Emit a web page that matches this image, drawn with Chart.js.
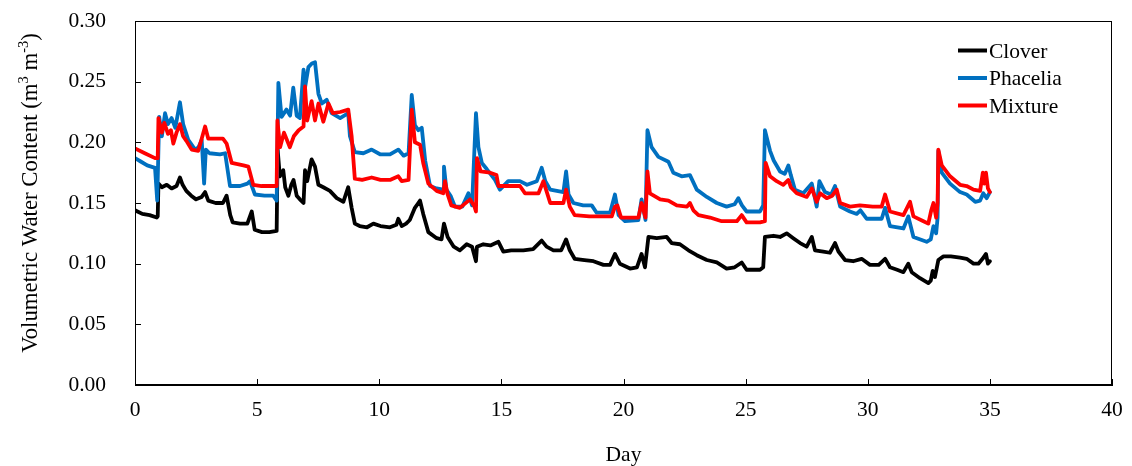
<!DOCTYPE html>
<html>
<head>
<meta charset="utf-8">
<script src="https://cdn.jsdelivr.net/npm/chart.js@4.4.1/dist/chart.umd.min.js"></script>
<style>
  html, body { margin: 0; padding: 0; background: #fff; }
  canvas { display: block; }
</style>
</head>
<body>
<canvas id="vwcChart" width="1132" height="466"></canvas>
<script>
// Series names and colours
const seriesNames = ['Clover', 'Phacelia', 'Mixture'];
const seriesColors = ['#000000', '#0070C0', '#FF0000'];

// Axis ticks
const xTicks = [0, 5, 10, 15, 20, 25, 30, 35, 40];
const yTicks = [0.00, 0.05, 0.10, 0.15, 0.20, 0.25, 0.30];

// Clover
const cloverDays = [0.00, 0.30, 0.60, 0.89, 0.93, 0.96, 1.10, 1.30, 1.50, 1.70, 1.84, 1.95, 2.10, 2.30, 2.50, 2.73, 2.87, 3.00, 3.30, 3.60, 3.75, 3.90, 4.00, 4.30, 4.60, 4.78, 4.90, 5.20, 5.50, 5.80, 5.84, 5.93, 6.07, 6.15, 6.28, 6.40, 6.49, 6.62, 6.75, 6.90, 6.96, 7.05, 7.23, 7.37, 7.51, 7.71, 7.98, 8.26, 8.53, 8.73, 8.87, 9.00, 9.20, 9.50, 9.76, 10.05, 10.44, 10.70, 10.78, 10.92, 11.10, 11.25, 11.46, 11.60, 11.67, 11.80, 12.01, 12.35, 12.55, 12.65, 12.80, 13.05, 13.30, 13.58, 13.80, 13.96, 14.00, 14.26, 14.55, 14.88, 15.08, 15.40, 15.90, 16.30, 16.65, 16.85, 17.13, 17.45, 17.65, 17.80, 18.00, 18.40, 18.77, 19.18, 19.45, 19.65, 19.85, 20.27, 20.55, 20.74, 20.88, 21.02, 21.36, 21.77, 21.97, 22.31, 22.66, 23.00, 23.41, 23.82, 24.22, 24.55, 24.84, 25.04, 25.59, 25.72, 25.79, 26.14, 26.41, 26.68, 26.95, 27.23, 27.50, 27.71, 27.84, 28.18, 28.45, 28.66, 28.80, 29.07, 29.40, 29.75, 30.09, 30.45, 30.71, 30.91, 31.20, 31.46, 31.66, 31.80, 32.14, 32.48, 32.58, 32.66, 32.75, 32.89, 33.10, 33.40, 33.78, 34.05, 34.33, 34.53, 34.70, 34.84, 34.92, 35.00];
const cloverVwc = [0.144, 0.141, 0.140, 0.138, 0.139, 0.166, 0.163, 0.165, 0.162, 0.164, 0.171, 0.165, 0.160, 0.156, 0.153, 0.155, 0.159, 0.152, 0.150, 0.150, 0.156, 0.140, 0.134, 0.133, 0.133, 0.143, 0.128, 0.126, 0.126, 0.127, 0.194, 0.172, 0.177, 0.163, 0.156, 0.165, 0.169, 0.156, 0.153, 0.150, 0.177, 0.168, 0.186, 0.180, 0.165, 0.163, 0.160, 0.154, 0.151, 0.163, 0.146, 0.133, 0.131, 0.130, 0.133, 0.131, 0.130, 0.132, 0.137, 0.131, 0.133, 0.136, 0.146, 0.150, 0.152, 0.141, 0.126, 0.121, 0.120, 0.133, 0.122, 0.114, 0.111, 0.116, 0.114, 0.102, 0.114, 0.116, 0.115, 0.118, 0.110, 0.111, 0.111, 0.112, 0.119, 0.114, 0.111, 0.111, 0.120, 0.111, 0.104, 0.103, 0.102, 0.099, 0.099, 0.108, 0.100, 0.096, 0.097, 0.108, 0.097, 0.122, 0.121, 0.122, 0.117, 0.116, 0.111, 0.107, 0.103, 0.101, 0.096, 0.097, 0.101, 0.095, 0.095, 0.097, 0.122, 0.123, 0.122, 0.125, 0.121, 0.117, 0.114, 0.122, 0.111, 0.110, 0.109, 0.117, 0.110, 0.103, 0.102, 0.104, 0.099, 0.099, 0.104, 0.097, 0.095, 0.093, 0.100, 0.093, 0.088, 0.084, 0.086, 0.094, 0.089, 0.103, 0.106, 0.106, 0.105, 0.104, 0.100, 0.100, 0.104, 0.108, 0.100, 0.102];

// Phacelia
const phaceliaDays = [0.00, 0.25, 0.50, 0.82, 0.91, 0.99, 1.10, 1.23, 1.35, 1.50, 1.65, 1.84, 1.97, 2.18, 2.46, 2.60, 2.73, 2.83, 2.90, 3.05, 3.48, 3.69, 3.89, 4.30, 4.60, 4.71, 4.91, 5.30, 5.66, 5.80, 5.87, 6.00, 6.20, 6.35, 6.48, 6.62, 6.75, 6.90, 6.96, 7.10, 7.24, 7.37, 7.51, 7.65, 7.85, 8.05, 8.40, 8.73, 8.80, 9.00, 9.35, 9.69, 10.05, 10.44, 10.78, 11.00, 11.20, 11.33, 11.46, 11.60, 11.74, 11.88, 12.08, 12.35, 12.62, 12.65, 12.75, 12.92, 13.10, 13.40, 13.65, 13.80, 13.96, 14.06, 14.20, 14.40, 14.74, 14.94, 15.28, 15.76, 16.05, 16.45, 16.65, 16.80, 17.00, 17.54, 17.65, 17.75, 17.95, 18.35, 18.70, 18.90, 19.45, 19.65, 19.80, 20.06, 20.61, 20.74, 20.90, 20.98, 21.15, 21.43, 21.84, 22.04, 22.38, 22.72, 23.00, 23.41, 23.82, 24.22, 24.55, 24.70, 24.85, 25.04, 25.59, 25.72, 25.79, 26.00, 26.15, 26.41, 26.60, 26.75, 26.85, 27.02, 27.36, 27.71, 27.91, 28.02, 28.25, 28.50, 28.66, 28.87, 29.27, 29.55, 29.70, 29.96, 30.57, 30.71, 30.91, 31.46, 31.66, 31.87, 32.41, 32.58, 32.69, 32.80, 32.86, 32.89, 33.03, 33.37, 33.78, 34.05, 34.40, 34.60, 34.73, 34.87, 35.00];
const phaceliaVwc = [0.187, 0.184, 0.181, 0.179, 0.152, 0.221, 0.205, 0.224, 0.215, 0.220, 0.212, 0.233, 0.215, 0.202, 0.194, 0.196, 0.202, 0.166, 0.194, 0.191, 0.190, 0.191, 0.164, 0.164, 0.166, 0.168, 0.157, 0.156, 0.156, 0.152, 0.249, 0.221, 0.227, 0.222, 0.245, 0.222, 0.220, 0.260, 0.245, 0.262, 0.265, 0.266, 0.240, 0.232, 0.235, 0.224, 0.220, 0.224, 0.205, 0.192, 0.191, 0.194, 0.190, 0.190, 0.194, 0.189, 0.191, 0.239, 0.214, 0.210, 0.212, 0.185, 0.164, 0.162, 0.161, 0.180, 0.161, 0.156, 0.147, 0.147, 0.158, 0.148, 0.224, 0.196, 0.183, 0.178, 0.169, 0.161, 0.168, 0.168, 0.165, 0.168, 0.179, 0.168, 0.161, 0.159, 0.176, 0.157, 0.150, 0.148, 0.148, 0.142, 0.142, 0.157, 0.140, 0.135, 0.136, 0.153, 0.136, 0.210, 0.196, 0.188, 0.184, 0.175, 0.172, 0.173, 0.161, 0.155, 0.150, 0.147, 0.149, 0.154, 0.148, 0.143, 0.143, 0.148, 0.210, 0.193, 0.185, 0.176, 0.174, 0.181, 0.173, 0.161, 0.158, 0.166, 0.147, 0.168, 0.159, 0.157, 0.164, 0.147, 0.143, 0.141, 0.144, 0.137, 0.137, 0.146, 0.131, 0.129, 0.139, 0.122, 0.118, 0.120, 0.131, 0.125, 0.138, 0.193, 0.175, 0.166, 0.159, 0.157, 0.151, 0.152, 0.158, 0.154, 0.159];

// Mixture
const mixtureDays = [0.00, 0.40, 0.82, 0.93, 0.96, 1.10, 1.20, 1.35, 1.47, 1.57, 1.70, 1.84, 1.97, 2.11, 2.32, 2.59, 2.73, 2.87, 3.00, 3.60, 3.75, 3.96, 4.44, 4.64, 4.84, 5.18, 5.66, 5.80, 5.83, 5.94, 6.10, 6.34, 6.50, 6.70, 6.90, 6.96, 7.05, 7.23, 7.37, 7.51, 7.71, 7.92, 8.10, 8.40, 8.73, 8.87, 9.00, 9.30, 9.69, 10.05, 10.44, 10.78, 10.92, 11.20, 11.33, 11.46, 11.67, 11.80, 12.01, 12.35, 12.62, 12.69, 12.80, 12.95, 13.30, 13.72, 13.90, 13.96, 14.00, 14.15, 14.54, 14.80, 14.88, 15.30, 15.76, 15.97, 16.52, 16.72, 17.00, 17.54, 17.65, 17.80, 18.00, 18.60, 19.04, 19.52, 19.65, 19.75, 19.90, 20.13, 20.61, 20.74, 20.90, 20.98, 21.08, 21.50, 21.84, 22.18, 22.60, 22.72, 22.86, 23.07, 23.54, 24.02, 24.64, 24.84, 25.04, 25.59, 25.79, 25.82, 26.00, 26.27, 26.54, 26.75, 26.85, 27.09, 27.50, 27.71, 27.91, 28.05, 28.32, 28.55, 28.73, 28.87, 29.27, 29.68, 30.20, 30.57, 30.71, 30.91, 31.46, 31.73, 31.87, 32.28, 32.48, 32.60, 32.69, 32.80, 32.86, 32.89, 33.03, 33.37, 33.78, 34.05, 34.33, 34.60, 34.71, 34.78, 34.84, 34.92, 35.00];
const mixtureVwc = [0.195, 0.191, 0.187, 0.187, 0.220, 0.208, 0.216, 0.207, 0.210, 0.199, 0.208, 0.215, 0.205, 0.201, 0.194, 0.193, 0.203, 0.213, 0.203, 0.203, 0.199, 0.183, 0.181, 0.180, 0.165, 0.164, 0.164, 0.164, 0.218, 0.196, 0.208, 0.196, 0.205, 0.210, 0.213, 0.246, 0.218, 0.234, 0.218, 0.232, 0.217, 0.232, 0.224, 0.225, 0.227, 0.205, 0.170, 0.169, 0.171, 0.169, 0.169, 0.172, 0.168, 0.169, 0.227, 0.200, 0.198, 0.183, 0.166, 0.160, 0.158, 0.168, 0.157, 0.148, 0.146, 0.153, 0.147, 0.143, 0.187, 0.176, 0.175, 0.173, 0.164, 0.164, 0.164, 0.158, 0.158, 0.168, 0.150, 0.150, 0.161, 0.147, 0.140, 0.139, 0.139, 0.139, 0.147, 0.148, 0.138, 0.138, 0.138, 0.150, 0.138, 0.176, 0.158, 0.153, 0.152, 0.148, 0.147, 0.150, 0.144, 0.140, 0.138, 0.135, 0.135, 0.140, 0.134, 0.134, 0.135, 0.183, 0.172, 0.168, 0.165, 0.169, 0.163, 0.158, 0.155, 0.162, 0.151, 0.158, 0.154, 0.156, 0.161, 0.150, 0.147, 0.148, 0.147, 0.147, 0.157, 0.143, 0.140, 0.151, 0.139, 0.135, 0.133, 0.144, 0.150, 0.138, 0.150, 0.194, 0.181, 0.172, 0.165, 0.164, 0.161, 0.160, 0.175, 0.166, 0.175, 0.162, 0.159];

const FONT = '"Liberation Serif", "Times New Roman", serif';

function toPoints(days, vals) {
    return days.map((d, i) => ({x: d, y: vals[i]}));
}

// draws the box, the inward tick marks, the y title with superscripts and the legend
const framePlugin = {
    id: 'frame',
    afterDraw(chart) {
        const {ctx, chartArea: a, scales} = chart;
        ctx.save();
        ctx.strokeStyle = '#000';
        ctx.lineWidth = 1;
        ctx.strokeRect(a.left + 0.5, a.top + 0.5, a.right - a.left - 1, a.bottom - a.top - 1);

        // ticks pointing into the plot
        ctx.beginPath();
        yTicks.forEach(v => {
            const y = Math.round(scales.y.getPixelForValue(v)) + 0.5;
            ctx.moveTo(a.left, y);
            ctx.lineTo(a.left + 6, y);
        });
        xTicks.forEach(v => {
            const x = Math.round(scales.x.getPixelForValue(v)) + 0.5;
            ctx.moveTo(x, a.bottom);
            ctx.lineTo(x, a.bottom - 6);
        });
        ctx.stroke();

        // y axis title
        const parts = [['Volumetric Water Content (m', 22.8, 0], ['3', 14.5, -8.5], [' m', 22.8, 0], ['-3', 14.5, -8.5], [')', 22.8, 0]];
        let total = 0;
        parts.forEach(p => { ctx.font = p[1] + 'px ' + FONT; total += ctx.measureText(p[0]).width; });
        ctx.translate(36.5, 193 + total / 2);
        ctx.rotate(-Math.PI / 2);
        ctx.fillStyle = '#000';
        ctx.textBaseline = 'alphabetic';
        ctx.textAlign = 'left';
        let cx = 0;
        parts.forEach(p => {
            ctx.font = p[1] + 'px ' + FONT;
            ctx.fillText(p[0], cx, p[2]);
            cx += ctx.measureText(p[0]).width;
        });
        ctx.restore();

        // legend
        ctx.save();
        ctx.font = '21.5px ' + FONT;
        ctx.fillStyle = '#000';
        ctx.textBaseline = 'alphabetic';
        chart.data.datasets.forEach((ds, i) => {
            const y = 50.5 + i * 27.5;
            ctx.strokeStyle = ds.borderColor;
            ctx.lineWidth = 4;
            ctx.beginPath();
            ctx.moveTo(958, y);
            ctx.lineTo(987, y);
            ctx.stroke();
            ctx.fillText(ds.label, 989, y + 7);
        });
        ctx.restore();
    }
};

const datasets = [
    {label: seriesNames[0], data: toPoints(cloverDays, cloverVwc), borderColor: seriesColors[0], order: 2},
    {label: seriesNames[1], data: toPoints(phaceliaDays, phaceliaVwc), borderColor: seriesColors[1], order: 1},
    {label: seriesNames[2], data: toPoints(mixtureDays, mixtureVwc), borderColor: seriesColors[2], order: 0}
];

new Chart(document.getElementById('vwcChart').getContext('2d'), {
    type: 'line',
    data: {datasets: datasets},
    options: {
        responsive: false,
        animation: false,
        layout: {padding: {top: 21, right: 20, left: 0, bottom: 0}},
        elements: {
            point: {radius: 0},
            line: {borderWidth: 3.8, tension: 0, borderJoinStyle: 'round', borderCapStyle: 'round', fill: false}
        },
        scales: {
            x: {
                type: 'linear', min: 0, max: 40,
                afterBuildTicks: s => { s.ticks = xTicks.map(v => ({value: v})); },
                ticks: {color: '#000', font: {family: FONT, size: 21.5}, padding: 12, maxRotation: 0},
                grid: {display: false, drawTicks: false},
                border: {color: '#000', width: 1},
                title: {display: true, text: 'Day', color: '#000', font: {family: FONT, size: 21.5, lineHeight: 1}, padding: {top: 0, bottom: 0}},
                // fixed height; the label overflow padding would otherwise eat into the layout padding
                afterFit: s => { s.height = 81; s.paddingLeft = 0; s.paddingRight = 0; }
            },
            y: {
                type: 'linear', min: 0, max: 0.3,
                afterBuildTicks: s => { s.ticks = yTicks.map(v => ({value: v})); },
                ticks: {color: '#000', font: {family: FONT, size: 21.5}, padding: 29, callback: v => v.toFixed(2)},
                grid: {display: false, drawTicks: false},
                border: {color: '#000', width: 1},
                afterFit: s => { s.width = 135; s.paddingTop = 0; s.paddingBottom = 0; }
            }
        },
        plugins: {legend: {display: false}, tooltip: {enabled: false}}
    },
    plugins: [framePlugin]
});
</script>
</body>
</html>
